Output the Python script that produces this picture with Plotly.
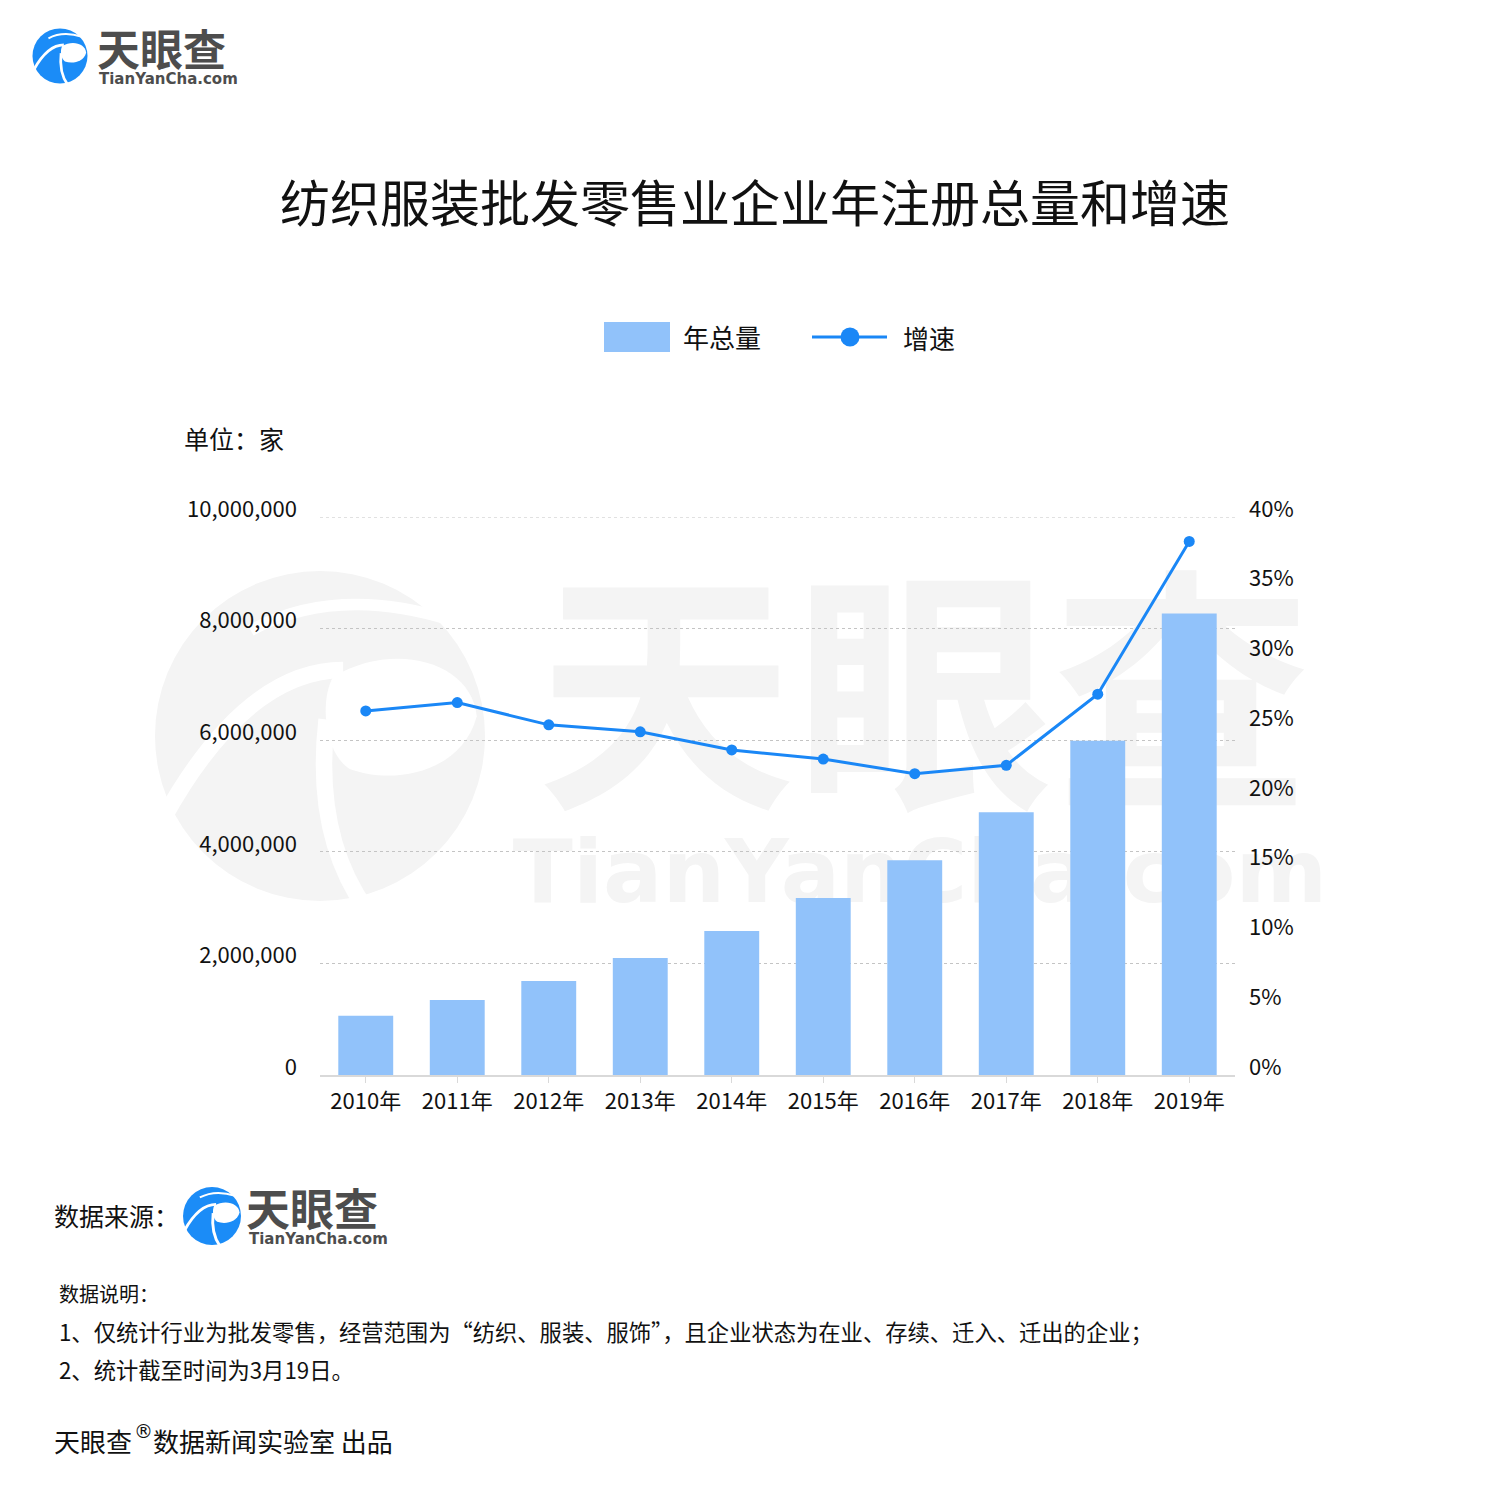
import plotly.graph_objects as go

# ---------------- data ----------------
years = ["2010年", "2011年", "2012年", "2013年", "2014年",
         "2015年", "2016年", "2017年", "2018年", "2019年"]
totals = [1063000, 1344000, 1685000, 2097000, 2580000,
          3170000, 3850000, 4710000, 5990000, 8270000]
growth = [26.1, 26.7, 25.1, 24.6, 23.3, 22.65, 21.6, 22.2, 27.3, 38.25]
left_ticks = [0, 2000000, 4000000, 6000000, 8000000, 10000000]
right_ticks = [0, 5, 10, 15, 20, 25, 30, 35, 40]
right_labels = ["0%", "5%", "10%", "15%", "20%", "25%", "30%", "35%", "40%"]

title_text = "纺织服装批发零售业企业年注册总量和增速"
series_names = ["年总量", "增速"]
unit_text = "单位：家"
note_lines = [
    "数据说明：",
    "1、仅统计行业为批发零售，经营范围为“纺织、服装、服饰”，且企业状态为在业、存续、迁入、迁出的企业；",
    "2、统计截至时间为3月19日。",
]

# ---------------- geometry helpers ----------------
W, H = 1500, 1490
L, R, T, B = 320, 1235, 517, 1075


def px(x):
    return (x - L) / (R - L)


def py(y):
    return (B - y) / (B - T)


BAR = "#91c2fa"
LINE = "#1a87f6"
WM = "#f4f4f4"
LOGO = "#1b8cf7"
GRID = "#c4c4c4"
CJK = "Noto Sans CJK SC"

fig = go.Figure()
fig.add_trace(go.Bar(x=years, y=totals, name=series_names[0],
                     marker=dict(color=BAR, line=dict(width=0)), showlegend=False))
fig.add_trace(go.Scatter(x=years, y=growth, name=series_names[1], yaxis="y2",
                         mode="lines+markers", line=dict(color=LINE, width=3),
                         marker=dict(size=11, color=LINE), showlegend=False))

shapes = []
annotations = []


def logo(cx, cy, r, fill):
    def P(u, v):
        return f"{px(cx + u * r):.5f},{py(cy + v * r):.5f}"
    s = [dict(type="circle", xref="paper", yref="paper",
              x0=px(cx - r), x1=px(cx + r), y0=py(cy + r), y1=py(cy - r),
              fillcolor=fill, line=dict(width=0), layer="below")]
    paths = [
        (f"M{P(-0.95,0.50)} Q{P(-0.45,-0.40)} {P(0.14,-0.40)}", 0.10),
        (f"M{P(-0.42,-0.64)} Q{P(0.10,-0.92)} {P(0.80,-0.70)}", 0.07),
        (f"M{P(0.04,-0.10)} Q{P(-0.04,0.60)} {P(0.28,1.05)}", 0.10),
    ]
    for d, k in paths:
        s.append(dict(type="path", path=d, xref="paper", yref="paper",
                      line=dict(color="white", width=k * r), layer="below"))
    eye = (f"M{P(0.08,-0.36)} C{P(0.45,-0.58)} {P(0.92,-0.45)} {P(0.95,-0.12)} "
           f"C{P(0.86,0.22)} {P(0.45,0.30)} {P(0.18,0.20)} "
           f"C{P(0.02,0.10)} {P(0.0,-0.22)} {P(0.08,-0.36)} Z")
    s.append(dict(type="path", path=eye, xref="paper", yref="paper",
                  fillcolor="white", line=dict(width=0), layer="below"))
    return s


# watermark
shapes += logo(320, 736, 165, WM)
shapes.append(dict(type="rect", xref="paper", yref="paper",
                   x0=px(520), x1=px(1328), y0=py(830), y1=py(606),
                   fillcolor="rgba(0,0,0,0)", line=dict(width=0), layer="below",
                   label=dict(text="<b>天眼查</b>", textposition="middle center",
                              font=dict(family=CJK, size=258, color=WM))))
shapes.append(dict(type="rect", xref="paper", yref="paper",
                   x0=px(516), x1=px(1324), y0=py(900), y1=py(830),
                   fillcolor="rgba(0,0,0,0)", line=dict(width=0), layer="below",
                   label=dict(text="<b>TianYanCha.com</b>", textposition="middle center",
                              font=dict(family="DejaVu Sans", size=88, color=WM))))

# logos
shapes += logo(60, 56, 27.5, LOGO)
shapes += logo(212, 1216, 29, LOGO)

# top gridline at the axis maximum (dashed, same style as the others)
shapes.append(dict(type="line", xref="paper", x0=0, x1=1, yref="y",
                   y0=left_ticks[-1], y1=left_ticks[-1],
                   line=dict(color=GRID, width=1, dash="3px,3px"), layer="below"))


def ann(text, x, y, size, color="#111", xanchor="left", family=CJK):
    annotations.append(dict(text=text, x=px(x), y=py(y), xref="paper", yref="paper",
                            xanchor=xanchor, yanchor="middle", showarrow=False,
                            font=dict(family=family, size=size, color=color)))


ann("<b>天眼查</b>", 95, 47, 43, "#4d4d4d")
ann("<b>TianYanCha.com</b>", 97, 79, 15, "#4d4d4d", family="DejaVu Sans")
ann("<b>天眼查</b>", 244, 1207, 44, "#4d4d4d")
ann("<b>TianYanCha.com</b>", 247, 1239, 15, "#4d4d4d", family="DejaVu Sans")

ann(title_text, 755, 200, 50, "#111", xanchor="center")

# legend
shapes.append(dict(type="rect", xref="paper", yref="paper",
                   x0=px(604), x1=px(670), y0=py(352), y1=py(322),
                   fillcolor=BAR, line=dict(width=0)))
ann(series_names[0], 681, 336, 26)
shapes.append(dict(type="line", xref="paper", yref="paper",
                   x0=px(812), x1=px(887), y0=py(337), y1=py(337),
                   line=dict(color=LINE, width=3)))
shapes.append(dict(type="circle", xref="paper", yref="paper",
                   x0=px(840.5), x1=px(859.5), y0=py(346.5), y1=py(327.5),
                   fillcolor=LINE, line=dict(width=0)))
ann(series_names[1], 901, 338, 26)

ann(unit_text, 182, 438, 25)

# footer
ann("数据来源：", 52, 1215, 25)
ann(note_lines[0], 57, 1293, 20)
ann(note_lines[1], 57, 1331, 22.3)
ann(note_lines[2], 57, 1369, 22.3)
ann("天眼查", 52, 1440, 26)
ann("®", 132, 1431, 19, family="DejaVu Sans")
ann("数据新闻实验室 出品", 151, 1440, 26)

fig.update_layout(
    width=W, height=H,
    margin=dict(l=L, r=W - R, t=T, b=H - B, pad=0),
    paper_bgcolor="white", plot_bgcolor="rgba(0,0,0,0)",
    bargap=0.4, showlegend=False,
    font=dict(family=CJK, size=22, color="#111"),
    xaxis=dict(type="category", range=[-0.5, 9.5], showline=True,
               linecolor="#d9d9d9", linewidth=2,
               ticks="outside", ticklen=6, tickcolor="#d9d9d9", tickwidth=1,
               showgrid=False, tickfont=dict(size=22, color="#111")),
    yaxis=dict(range=[0, 10000000], tickvals=left_ticks, tickformat=",d",
               showgrid=True, gridcolor=GRID, griddash="3px,3px", gridwidth=1,
               zeroline=False, ticklabelshift=-8, ticklabelstandoff=22,
               tickfont=dict(size=22, color="#111")),
    yaxis2=dict(range=[0, 40], overlaying="y", side="right",
                tickvals=right_ticks, ticktext=right_labels,
                showgrid=False, zeroline=False,
                ticklabelshift=-8, ticklabelstandoff=13,
                tickfont=dict(size=22, color="#111")),
    shapes=shapes,
    annotations=annotations,
)

fig.write_html("out.html", config={"displayModeBar": False},
               post_script="document.body.style.margin='0px';")
